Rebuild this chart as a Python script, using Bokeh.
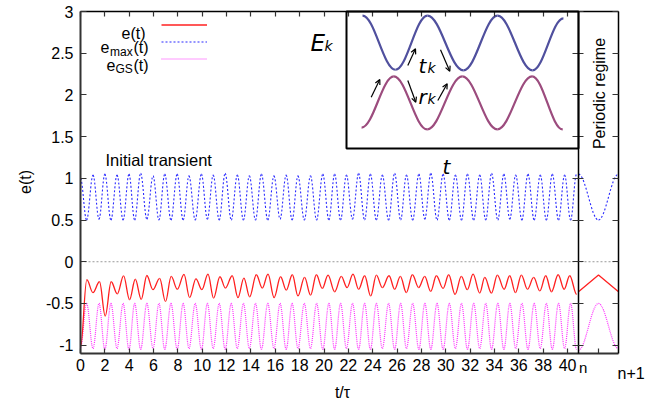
import numpy as np
from bokeh.plotting import figure
from bokeh.models import (Range1d, LinearAxis, FixedTicker, Label, Arrow, OpenHead,
                          BoxAnnotation, Legend, LegendItem, ColumnDataSource)
from bokeh.embed import file_html
from bokeh.resources import INLINE

# ---------------- data ----------------
x_ticks = list(range(0, 41, 2))
y_ticks = [-1, -0.5, 0, 0.5, 1, 1.5, 2, 2.5, 3]
y_tick_labels = ["-1", "-0.5", "0", "0.5", "1", "1.5", "2", "2.5", "3"]

# times of the maxima of e_max(t) (= minima of e_GS(t)) and of its minima
peak_t = [0.0, 1.03, 2.0, 3.0, 3.98, 4.94, 5.96, 6.92, 7.94, 8.91, 9.93, 10.9, 11.88,
          12.88, 13.87, 14.86, 15.89, 16.89, 17.86, 18.89, 19.9, 20.87, 21.84, 22.84,
          23.81, 24.79, 25.8, 26.77, 27.79, 28.77, 29.78, 30.79, 31.78, 32.79, 33.76,
          34.77, 35.74, 36.75, 37.76, 38.75, 39.76, 40.74]
trough_t = [0.5, 1.52, 2.5, 3.5, 4.45, 5.45, 6.44, 7.43, 8.43, 9.42, 10.42, 11.39,
            12.38, 13.38, 14.37, 15.38, 16.39, 17.38, 18.38, 19.39, 20.4, 21.36, 22.34,
            23.33, 24.3, 25.3, 26.29, 27.28, 28.28, 29.28, 30.29, 31.29, 32.29, 33.28,
            34.27, 35.26, 36.25, 37.26, 38.26, 39.26, 40.25]
emax_peak = [1.0, 1.04, 1.05, 1.04, 1.05, 1.06, 1.03, 1.05, 1.05, 1.03, 1.05, 1.04, 1.06,
             1.04, 1.03, 1.05, 1.03, 1.04, 1.03, 1.03, 1.05, 1.05, 1.04, 1.06, 1.05, 1.04,
             1.06, 1.04, 1.05, 1.06, 1.05, 1.04, 1.05, 1.04, 1.06, 1.05, 1.04, 1.05, 1.04,
             1.05, 1.04, 1.05]
emax_trough = [0.5, 0.51, 0.5, 0.5, 0.5, 0.51, 0.5, 0.5, 0.5, 0.5, 0.51, 0.5, 0.5, 0.5,
               0.5, 0.5, 0.51, 0.5, 0.5, 0.5, 0.5, 0.5, 0.51, 0.5, 0.5, 0.5, 0.5, 0.5,
               0.51, 0.5, 0.5, 0.5, 0.5, 0.5, 0.5, 0.51, 0.5, 0.5, 0.5, 0.5, 0.5]
egs_trough = [-1.03, -1.04, -1.05, -1.04, -1.05, -1.05, -1.04, -1.05, -1.05, -1.04, -1.05,
              -1.04, -1.05, -1.04, -1.04, -1.05, -1.04, -1.05, -1.04, -1.04, -1.05, -1.05,
              -1.04, -1.05, -1.05, -1.04, -1.05, -1.04, -1.05, -1.05, -1.05, -1.04, -1.05,
              -1.04, -1.05, -1.05, -1.04, -1.05, -1.04, -1.05, -1.04, -1.05]
egs_peak = [-0.5, -0.5, -0.5, -0.5, -0.5, -0.5, -0.5, -0.5, -0.5, -0.5, -0.5, -0.5, -0.5,
            -0.5, -0.5, -0.5, -0.5, -0.5, -0.5, -0.5, -0.5, -0.5, -0.5, -0.5, -0.5, -0.5,
            -0.5, -0.5, -0.5, -0.5, -0.5, -0.5, -0.5, -0.5, -0.5, -0.5, -0.5, -0.5, -0.5,
            -0.5, -0.5]

# e(t): successive extrema (t, value)
e_t = [0.0, 0.52, 1.02, 1.56, 2.03, 2.52, 3.02, 3.54, 4.03, 4.5, 4.99, 5.45, 5.95, 6.5,
       6.98, 7.45, 7.95, 8.5, 8.96, 9.48, 9.97, 10.47, 10.93, 11.45, 11.9, 12.46, 12.93,
       13.42, 13.89, 14.44, 14.93, 15.4, 15.9, 16.43, 16.9, 17.4, 17.86, 18.4, 18.9, 19.37,
       19.86, 20.33, 20.87, 21.42, 21.89, 22.38, 22.84, 23.34, 23.83, 24.3, 24.79, 25.34,
       25.8, 26.27, 26.76, 27.26, 27.77, 28.27, 28.76, 29.23, 29.78, 30.24, 30.76, 31.28,
       31.77, 32.24, 32.79, 33.2, 33.75, 34.24, 34.79, 35.25, 35.72, 36.21, 36.71, 37.22,
       37.72, 38.21, 38.68, 39.23, 39.72, 40.18, 40.75]
e_v = [-1.03, -0.215, -0.37, -0.24, -0.65, -0.24, -0.385, -0.17, -0.455, -0.21, -0.45,
       -0.165, -0.335, -0.2, -0.478, -0.176, -0.33, -0.152, -0.43, -0.205, -0.335, -0.148,
       -0.435, -0.18, -0.315, -0.168, -0.43, -0.196, -0.42, -0.156, -0.315, -0.148, -0.43,
       -0.18, -0.34, -0.156, -0.41, -0.188, -0.4, -0.156, -0.32, -0.16, -0.36, -0.176,
       -0.31, -0.148, -0.33, -0.168, -0.41, -0.16, -0.31, -0.168, -0.33, -0.176, -0.37,
       -0.156, -0.31, -0.176, -0.355, -0.168, -0.32, -0.156, -0.39, -0.176, -0.335,
       -0.148, -0.375, -0.188, -0.375, -0.16, -0.33, -0.168, -0.37, -0.16, -0.33, -0.188,
       -0.35, -0.168, -0.36, -0.156, -0.33, -0.168, -0.39]

# periodic regime: one period, n .. n+1
per_t = [0.0, 0.5, 1.0]
per_emax = [1.05, 0.5, 1.05]
per_e = [-0.36, -0.16, -0.36]
per_egs = [-1.06, -0.5, -1.04]

# inset sketch E_k(t) (arbitrary units 0..100)
ins_up_t = [6.9, 21.1, 34.9, 50.4, 65.1, 80.2, 93.5]
ins_up_E = [97.0, 57.5, 97.0, 57.0, 97.0, 57.0, 95.0]
ins_lo_t = [6.5, 20.4, 34.8, 49.9, 65.0, 80.0, 93.2]
ins_lo_E = [15.3, 52.6, 13.9, 52.6, 13.9, 52.6, 13.9]

# ---------------- layout (screen pixels) ----------------
W, H = 667, 402
FL, FR, FT, FB = 80, 618, 11, 353        # plot box edges in page pixels
SEP = 578                                 # separator main | periodic panel
X_SEP = 40.9                              # main-axis value at separator
Y0, Y1 = -1.1, 3.0                        # main y extent
IL, IB = 346, 148                         # inset box left / bottom

kx = X_SEP / (SEP - FL)                   # main x units per pixel
ky = (Y1 - Y0) / (FB - FT)                # main y units per pixel
x_box_end = (FR - FL) * kx

# the Bokeh frame covers the whole canvas; the visible box is drawn by fixed axes
p = figure(width=W, height=H,
           x_range=Range1d(-FL * kx, (W - FL) * kx),
           y_range=Range1d(Y1 - (H - FT) * ky, Y1 + FT * ky),
           output_backend="svg", toolbar_location=None,
           x_axis_location=None, y_axis_location=None,
           min_border=0, min_border_left=0, min_border_right=0,
           min_border_top=0, min_border_bottom=0)
p.grid.visible = False
p.outline_line_color = None
p.background_fill_color = "white"
p.border_fill_color = "white"

p.extra_x_ranges = {
    "panel": Range1d((0 - SEP) / (FR - SEP), (W - SEP) / (FR - SEP)),
    "inx": Range1d((0 - IL) / (SEP - IL) * 100, (W - IL) / (SEP - IL) * 100),
    "pxx": Range1d(0, W),
}
p.extra_y_ranges = {
    "iny": Range1d((IB - H) / (IB - FT) * 100, IB / (IB - FT) * 100),
    "pxy": Range1d(H, 0),
}

FONT = "Liberation Sans"
TS = "16px"


def axis(side, ticks, loc, bounds, tin, tout, xr="default", labels=None,
         line_color="black", line_width=1.5, standoff=5):
    ax = LinearAxis(ticker=FixedTicker(ticks=ticks), fixed_location=loc, x_range_name=xr,
                    bounds=bounds, major_tick_in=tin, major_tick_out=tout,
                    minor_tick_line_color=None, major_tick_line_color="#333333",
                    major_tick_line_width=1.2, axis_line_color=line_color,
                    axis_line_width=line_width)
    if labels is None:
        ax.major_label_text_font_size = "0px"
        ax.major_label_text_alpha = 0
    else:
        ax.major_label_overrides = labels
        ax.major_label_text_font = FONT
        ax.major_label_text_font_size = TS
        ax.major_label_text_color = "black"
        ax.major_label_standoff = standoff
    p.add_layout(ax, side)


axis("below", x_ticks, Y0, (0, x_box_end), 5, 0,
     labels={t: str(t) for t in x_ticks}, line_color="#333333", line_width=2, standoff=5)
axis("left", y_ticks, 0, (Y0, Y1), 6, 0,
     labels={t: s for t, s in zip(y_ticks, y_tick_labels)},
     line_color="#333333", line_width=2, standoff=7)
axis("above", x_ticks, Y1, (0, x_box_end), 5, 0)                 # top edge + ticks
axis("left", y_ticks, 0.0, (Y0, Y1), 5, 6, xr="panel")           # separator + ticks
axis("right", y_ticks, 1.0, (Y0, Y1), 6, 0, xr="panel")          # right edge + ticks
axis("below", [0.5], Y0, (0, 1), 5, 0, xr="panel", line_color=None)

# zero line across both panels
p.segment(x0=[0], y0=[0], x1=[x_box_end], y1=[0], line_color="#999999",
          line_dash="2 2", line_width=1)


def bez(ts, vs, k=0.364, **kw):
    ts = np.asarray(ts, float)
    vs = np.asarray(vs, float)
    x0, x1, y0, y1 = ts[:-1], ts[1:], vs[:-1], vs[1:]
    dx = x1 - x0
    src = ColumnDataSource(dict(x0=x0, y0=y0, x1=x1, y1=y1,
                                cx0=x0 + k * dx, cy0=y0, cx1=x1 - k * dx, cy1=y1))
    return p.bezier(x0="x0", y0="y0", x1="x1", y1="y1", cx0="cx0", cy0="cy0",
                    cx1="cx1", cy1="cy1", source=src, **kw)


def interleave(a_t, a_v, b_t, b_v):
    ts, vs = [], []
    for i in range(len(a_t)):
        ts.append(a_t[i]); vs.append(a_v[i])
        if i < len(b_t):
            ts.append(b_t[i]); vs.append(b_v[i])
    return ts, vs


BLUE = dict(line_color="#2a2aff", line_width=1.1, line_dash="2 2")
PINK = dict(line_color="#ff33ff", line_width=1.2, line_dash="1 1")
RED = dict(line_color="#ff2020", line_width=1.3)

mt, mv = interleave(peak_t, emax_peak, trough_t, emax_trough)
gt, gv = interleave(peak_t, egs_trough, trough_t, egs_peak)
r_blue = bez(mt, mv, **BLUE)
r_pink = bez(gt, gv, **PINK)
r_red = bez(e_t, e_v, **RED)

bez(per_t, per_emax, x_range_name="panel", **BLUE)
bez(per_t, per_egs, x_range_name="panel", **PINK)
p.line(per_t, per_e, x_range_name="panel", **RED)

# inset sketch
p.add_layout(BoxAnnotation(left=0, right=100, bottom=0, top=100, x_range_name="inx",
                           y_range_name="iny", fill_alpha=0, line_color="black",
                           line_alpha=1.0, line_width=2))
bez(ins_up_t, ins_up_E, x_range_name="inx", y_range_name="iny",
    line_color="#50509e", line_width=2.2)
bez(ins_lo_t, ins_lo_E, x_range_name="inx", y_range_name="iny",
    line_color="#9c4c7e", line_width=2.2)

# legend (samples only; texts placed separately, right aligned like gnuplot)
leg = Legend(items=[LegendItem(label=" ", renderers=[r_red]),
                    LegendItem(label=" ", renderers=[r_blue]),
                    LegendItem(label=" ", renderers=[r_pink])],
             location=(161, H - 67), orientation="vertical",
             glyph_width=46, glyph_height=17, label_height=17, label_width=0,
             label_standoff=0, label_text_font_size="1px", padding=0, spacing=0,
             margin=0, border_line_color=None, background_fill_alpha=0)
p.add_layout(leg)


def lab(x, y, text, size, font=FONT, style="normal", align="left",
        baseline="alphabetic", angle=0.0):
    p.add_layout(Label(x=x, y=y, x_range_name="pxx", y_range_name="pxy", text=text,
                       text_font=font, text_font_size=f"{size}px",
                       text_font_style=style, text_align=align,
                       text_baseline=baseline, angle=angle, text_color="black"))


# legend texts
lab(121, 33, "e(t)", 16)
lab(100, 46.5, "e", 16); lab(109.5, 51, "max", 12); lab(133, 46.5, "(t)", 16)
lab(106, 64.5, "e", 16); lab(115, 68.5, "GS", 12); lab(133, 64.5, "(t)", 16)

# axis titles and annotations
lab(25, 181.5, "e(t)", 16, align="center", baseline="middle", angle=np.pi / 2)
lab(342, 391.5, "t/\u03c4", 16, align="center")
lab(105, 159, "Initial transient", 16.5)
lab(599, 93, "Periodic regime", 16, align="center", baseline="middle", angle=np.pi / 2)
lab(578.5, 366.5, "n", 15)
lab(617, 372.5, "n+1", 16)

# inset texts (math-style oblique)
IF = "DejaVu Sans"
lab(310, 42.5, "E", 23, font=IF, style="italic"); lab(324, 45, "k", 14, font=IF, style="italic")
lab(418, 65, "t", 20, font=IF, style="italic"); lab(427, 67.5, "k", 14, font=IF, style="italic")
lab(418, 96, "r", 20, font=IF, style="italic"); lab(427, 98.5, "k", 14, font=IF, style="italic")
lab(442, 166.5, "t", 20, font=IF, style="italic")

# inset arrows
arrows = [((407.3, 65), (415, 48.3)), ((440, 49.3), (449.3, 70.7)),
          ((370.7, 96.7), (379.3, 79)), ((407.3, 80), (415.3, 101.7)),
          ((437.3, 100), (446.7, 83.3))]
for (xs, ys), (xe, ye) in arrows:
    p.add_layout(Arrow(end=OpenHead(size=5, line_width=1.2, line_color="black"),
                       x_start=xs, y_start=ys, x_end=xe, y_end=ye, line_width=1.2,
                       line_color="black", x_range_name="pxx", y_range_name="pxy"))

open("out.html", "w").write(file_html(p, INLINE))
